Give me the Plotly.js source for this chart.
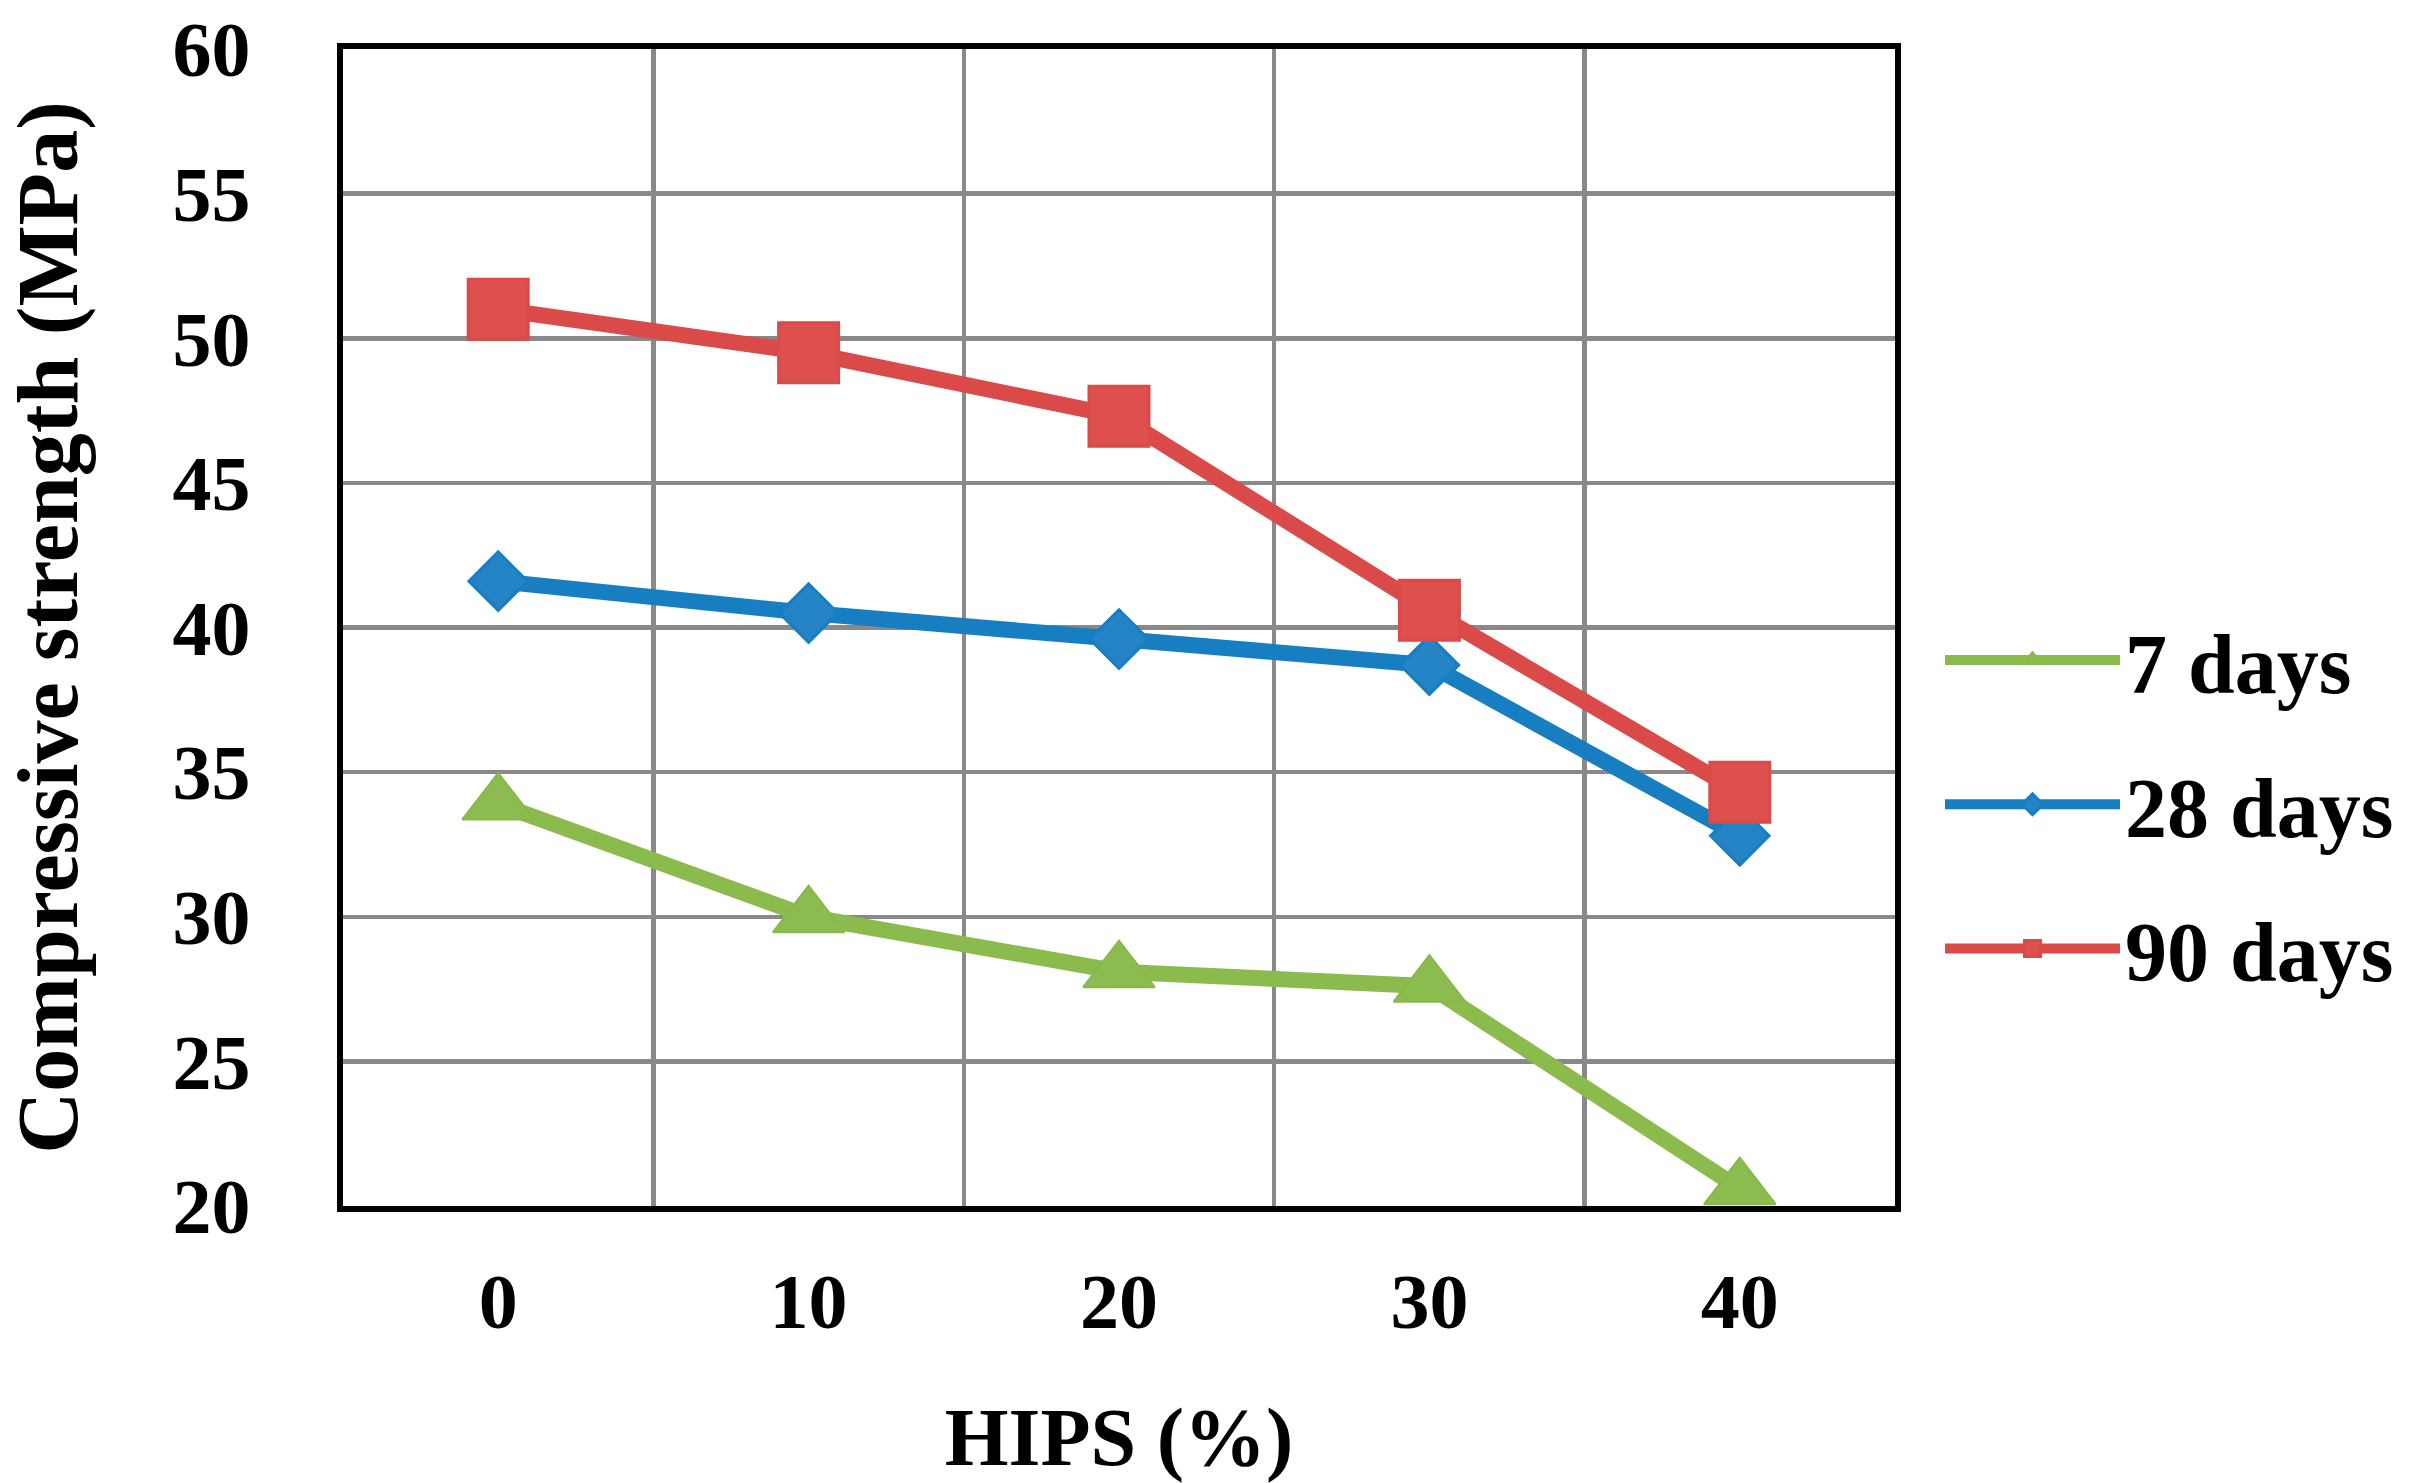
<!DOCTYPE html>
<html>
<head>
<meta charset="utf-8">
<script src="https://cdn.plot.ly/plotly-3.0.1.min.js"></script>
<style>
  html, body { margin: 0; padding: 0; background: #fff; }
  #chart { width: 2425px; height: 1483px; }
</style>
</head>
<body>
<div id="chart"></div>
<script>
// HIPS content (%) on the category axis
const hipsLabels = ['0', '10', '20', '30', '40'];

// compressive strength (MPa)
const days7 = [33.9, 30.0, 28.1, 27.6, 20.6];
const days28 = [41.6, 40.5, 39.6, 38.7, 32.8];
const days90 = [51.0, 49.5, 47.3, 40.6, 34.3];

const seriesNames = ['7 days', '28 days', '90 days'];

const chart = document.getElementById('chart');
const fontFamily = '"Liberation Serif", "Times New Roman", serif';

const baseTrace = {
  type: 'scatter',
  mode: 'lines+markers',
  x: hipsLabels,
  cliponaxis: false,
  hoverinfo: 'x+y+name',
};

const data = [
  {
    ...baseTrace,
    name: seriesNames[0],
    legendgroup: 'g7',
    y: days7,
    line: { color: '#8BBA4D', width: 16 },
    marker: { symbol: 'triangle-up', size: 62, color: '#8CBB50', line: { color: '#88B84A', width: 2 } },
  },
  {
    ...baseTrace,
    name: seriesNames[1],
    legendgroup: 'g28',
    y: days28,
    line: { color: '#177EC1', width: 16 },
    marker: { symbol: 'diamond', size: 45, color: '#2584C5', line: { color: '#177EC1', width: 3 } },
  },
  {
    ...baseTrace,
    name: seriesNames[2],
    legendgroup: 'g90',
    y: days90,
    line: { color: '#DA4A48', width: 16 },
    marker: { symbol: 'square', size: 60, color: '#DD504E', line: { color: '#DA4A48', width: 3 } },
  },
];

const layout = {
  width: 2425,
  height: 1483,
  paper_bgcolor: '#ffffff',
  plot_bgcolor: '#ffffff',
  font: { family: fontFamily, size: 78, color: '#000000', weight: 'bold' },
  margin: { l: 343, r: 530, t: 49, b: 277, pad: 0 },
  showlegend: true,
  legend: {
    x: 1.029,
    xanchor: 'left',
    y: 0.347,
    yanchor: 'middle',
    tracegroupgap: 32,
    itemwidth: 175,
    font: { family: fontFamily, size: 84, color: '#000000', weight: 'bold' },
    bgcolor: 'rgba(0,0,0,0)',
  },
  xaxis: {
    type: 'category',
    range: [-0.5, 4.5],
    tickson: 'boundaries',
    ticks: '',
    showgrid: true,
    gridcolor: '#898989',
    gridwidth: 4.5,
    showline: true,
    linecolor: '#000000',
    linewidth: 6,
    mirror: true,
    zeroline: false,
    ticklabelstandoff: 22,
    tickfont: { family: fontFamily, size: 78, weight: 'bold' },
    title: {
      text: 'HIPS (%)',
      standoff: 78,
      font: { family: fontFamily, size: 82, weight: 'bold' },
    },
    automargin: false,
    fixedrange: true,
  },
  yaxis: {
    range: [20, 60],
    dtick: 5,
    tick0: 20,
    ticks: '',
    showgrid: true,
    gridcolor: '#898989',
    gridwidth: 4.5,
    showline: true,
    linecolor: '#000000',
    linewidth: 6,
    mirror: true,
    zeroline: false,
    ticklabelstandoff: 71,
    tickfont: { family: fontFamily, size: 78, weight: 'bold' },
    title: {
      text: 'Compressive strength (MPa)',
      standoff: 74,
      font: { family: fontFamily, size: 86, weight: 'bold' },
    },
    automargin: false,
    fixedrange: true,
  },
};

Plotly.newPlot(chart, data, layout, { displayModeBar: false, staticPlot: true });
</script>
</body>
</html>
